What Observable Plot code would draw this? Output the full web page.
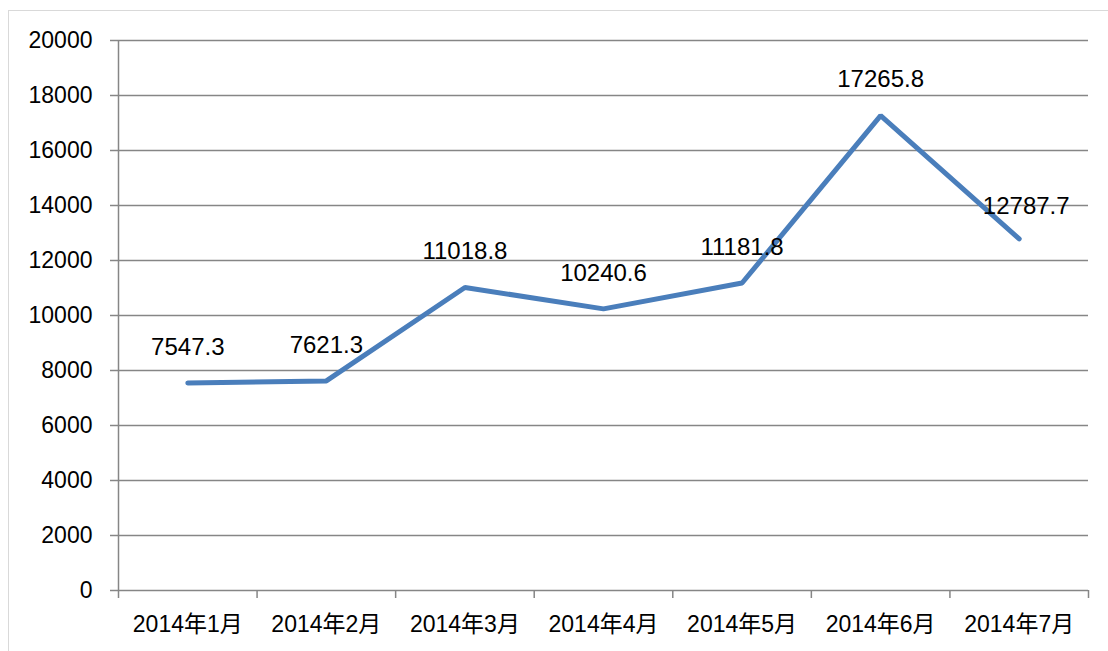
<!DOCTYPE html>
<html><head><meta charset="utf-8">
<script src="https://cdn.jsdelivr.net/npm/d3@7"></script>
<script src="https://cdn.jsdelivr.net/npm/@observablehq/plot@0.6"></script>
<style>
html,body{margin:0;padding:0;background:#fff;}
#chart{position:relative;width:1108px;height:651px;overflow:hidden;}
#frame{position:absolute;left:8px;top:10px;width:1200px;height:700px;border:1.5px solid #d9d9d9;box-sizing:border-box;pointer-events:none;}
</style></head>
<body><div id="chart"><div id="frame"></div></div>
<script>
const months = ["2014年1月","2014年2月","2014年3月","2014年4月","2014年5月","2014年6月","2014年7月"];
const values = [7547.3, 7621.3, 11018.8, 10240.6, 11181.8, 17265.8, 12787.7];
const yTicks = [0,2000,4000,6000,8000,10000,12000,14000,16000,18000,20000];

const data = months.map((m,i)=>({pos:i+0.5, month:m, value:values[i]}));
const bounds = d3.range(0, months.length+1);

const plot = Plot.plot({
  width:1108, height:651,
  marginLeft:118, marginRight:20, marginTop:40, marginBottom:61,
  style:{fontFamily:"'Liberation Sans','Noto Sans CJK SC',sans-serif", background:"transparent", color:"#000"},
  x:{type:"linear", domain:[0, months.length], label:null},
  y:{domain:[0,20000], label:null},
  marks:[
    Plot.gridY(yTicks, {stroke:"#868686", strokeOpacity:1, strokeWidth:1.5}),
    Plot.axisY(yTicks, {tickSize:8, tickPadding:18, stroke:"#868686", strokeWidth:1.5, fontSize:23, label:null, tickFormat:d=>String(d)}),
    Plot.ruleX([0], {stroke:"#868686", strokeWidth:1.5}),
    Plot.axisX(bounds, {tickSize:8, text:null, label:null, stroke:"#868686", strokeWidth:1.5}),
    Plot.axisX(data.map(d=>d.pos), {tickSize:0, tickPadding:25, fontSize:23, label:null, tickFormat:d=>months[Math.round(d-0.5)]}),
    Plot.lineY(data, {x:"pos", y:"value", stroke:"#4a7ebb", strokeWidth:5, strokeLinecap:"round", strokeLinejoin:"miter"}),
    Plot.text(data.slice(0,6), {x:"pos", y:"value", text:d=>String(d.value), dy:-36, fontSize:24, fill:"#000"}),
    Plot.text(data.slice(6), {x:"pos", y:"value", text:d=>String(d.value), dy:-33, dx:7, fontSize:24, fill:"#000"})
  ]
});
document.getElementById("chart").appendChild(plot);
</script></body></html>
